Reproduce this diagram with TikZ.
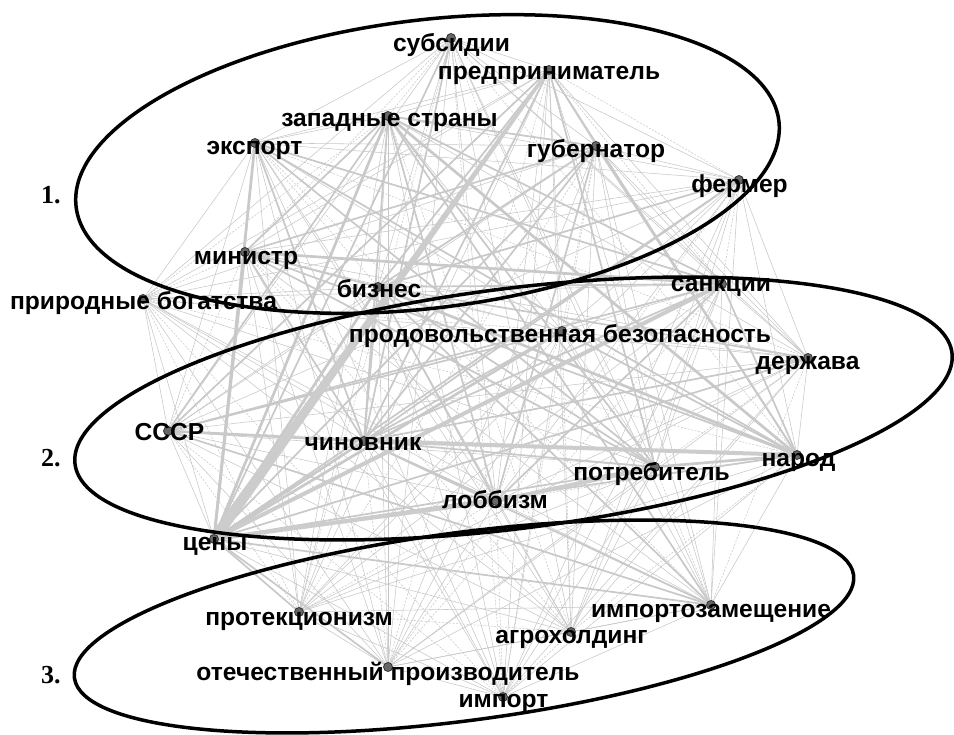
\documentclass[tikz,border=0pt]{standalone}
\usepackage{fontspec}
\setmainfont{Liberation Sans}
\newfontfamily\numfont{Liberation Serif}
\usetikzlibrary{calc}
\pgfdeclarelayer{bg}
\pgfsetlayers{bg,main}
\begin{document}
\begin{tikzpicture}[x=1pt,y=-1pt,
  dot/.style={circle, fill=black!60, draw=black!80, line width=0.8pt, inner sep=0pt, minimum size=9pt},
  lbl/.style={font=\fontsize{24.6}{27}\selectfont\bfseries, inner sep=0pt, anchor=base},
  num/.style={font=\numfont\bfseries\fontsize{26}{28}\selectfont, inner sep=0pt, anchor=base},
  e0/.style={draw=black!22, line width=0.55pt},
  e1/.style={draw=black!21, line width=1.7pt},
  e2/.style={draw=black!21, line width=2.7pt},
  e3/.style={draw=black!20, line width=4pt},
  ell/.style={draw=black, line width=3.5pt}]
\useasboundingbox (0,0) rectangle (954,735);
% dots
\node[dot] (sub) at (451,38) {};
\node[dot] (pred) at (549,70) {};
\node[dot] (zap) at (388,116) {};
\node[dot] (exp) at (255,143) {};
\node[dot] (gub) at (596,146) {};
\node[dot] (fer) at (739,180) {};
\node[dot] (min) at (245,252) {};
\node[dot] (biz) at (378,287) {};
\node[dot] (prir) at (143,299) {};
\node[dot] (sank) at (722,284) {};
\node[dot] (prod) at (562,331) {};
\node[dot] (derz) at (808,358) {};
\node[dot] (sssr) at (168,431) {};
\node[dot] (chin) at (364,441) {};
\node[dot] (narod) at (797,455) {};
\node[dot] (potr) at (655,467) {};
\node[dot] (lob) at (496,501) {};
\node[dot] (ceny) at (214,539) {};
\node[dot] (prot) at (299,612) {};
\node[dot] (impz) at (711,605) {};
\node[dot] (agro) at (571,632) {};
\node[dot] (otech) at (388,667) {};
\node[dot] (imp) at (503,697) {};
\begin{pgfonlayer}{bg}
\foreach \a [count=\i] in {sub,pred,zap,exp,gub,fer,min,biz,prir,sank,prod,derz,sssr,chin,narod,potr,lob,ceny,prot,impz,agro,otech,imp} {
  \foreach \b [count=\j] in {sub,pred,zap,exp,gub,fer,min,biz,prir,sank,prod,derz,sssr,chin,narod,potr,lob,ceny,prot,impz,agro,otech,imp} {
    \ifnum\j>\i
      \pgfmathtruncatemacro\m{mod(\i*7+\j*3,4)}
      \ifnum\m=0 \draw[e0,dash pattern=on 2pt off 1.5pt] (\a.center) -- (\b.center);
      \else \draw[e0] (\a.center) -- (\b.center); \fi
    \fi
  }
}
\foreach \a/\b in {exp/chin,exp/potr,exp/narod,exp/sank,zap/chin,zap/sssr,zap/gub,zap/potr,zap/sank,zap/min,zap/lob,
  pred/narod,pred/chin,pred/potr,pred/biz,pred/sssr,gub/ceny,gub/chin,gub/narod,gub/lob,gub/min,gub/biz,
  min/narod,min/potr,min/chin,min/biz,biz/sank,biz/potr,biz/chin,biz/lob,prod/sssr,prod/narod,prod/chin,
  sank/chin,sank/lob,sank/sssr,sank/narod,derz/chin,derz/ceny,derz/biz,chin/lob,chin/potr,potr/ceny,narod/ceny,
  ceny/prot,ceny/otech,impz/chin,impz/biz,impz/ceny,impz/zap,impz/sssr,fer/chin,fer/ceny,fer/biz,sub/chin,sub/ceny}
  \draw[e1] (\a.center) -- (\b.center);
\foreach \a/\b in {min/sank,sssr/chin,biz/narod,zap/narod,ceny/chin,ceny/biz,ceny/prod,ceny/exp,ceny/min,ceny/zap,potr/narod}
  \draw[e2] (\a.center) -- (\b.center);
\foreach \a/\b in {chin/narod,ceny/lob,ceny/sank,lob/potr}
  \draw[e3] (\a.center) -- (\b.center);
\fill[black!20] ($(pred.center)!1.5pt!90:(ceny.center)$) -- ($(pred.center)!1.5pt!-90:(ceny.center)$)
  -- ($(ceny.center)!5.5pt!90:(pred.center)$) -- ($(ceny.center)!5.5pt!-90:(pred.center)$) -- cycle;
\end{pgfonlayer}
% labels
\node[lbl] (sub-l) at (451.5,52) {субсидии};
\node[lbl] (pred-l) at (549,80) {предприниматель};
\node[lbl] (zap-l) at (389.5,127) {западные страны};
\node[lbl] (exp-l) at (254.5,155) {экспорт};
\node[lbl] (gub-l) at (596,158) {губернатор};
\node[lbl] (fer-l) at (739.5,193) {фермер};
\node[lbl] (min-l) at (246,265) {министр};
\node[lbl] (biz-l) at (379,298) {бизнес};
\node[lbl] (prir-l) at (143.5,310) {природные богатства};
\node[lbl] (sank-l) at (721,292) {санкции};
\node[lbl] (prod-l) at (560,343) {продовольственная безопасность};
\node[lbl] (derz-l) at (807.5,370) {держава};
\node[lbl] (sssr-l) at (169.5,441) {СССР};
\node[lbl] (chin-l) at (363,450) {чиновник};
\node[lbl] (narod-l) at (798.5,467) {народ};
\node[lbl] (potr-l) at (651.5,480) {потребитель};
\node[lbl] (lob-l) at (495,508) {лоббизм};
\node[lbl] (ceny-l) at (215,550) {цены};
\node[lbl] (prot-l) at (299,625) {протекционизм};
\node[lbl] (impz-l) at (711,617) {импортозамещение};
\node[lbl] (agro-l) at (571.5,643) {агрохолдинг};
\node[lbl] (otech-l) at (388,680) {отечественный производитель};
\node[lbl] (imp-l) at (503.5,707) {импорт};
% ellipses
\draw[ell, rotate around={7:(427.5,164)}] (427.5,164) ellipse [x radius=354, y radius=144];
\draw[ell, rotate around={7.24:(513.5,408.5)}] (513.5,408.5) ellipse [x radius=442, y radius=120];
\draw[ell, rotate around={7.52:(464,626.5)}] (464,626.5) ellipse [x radius=393, y radius=94];
\node[num] (n1) at (51,204) {1.};
\node[num] (n2) at (51,467) {2.};
\node[num] (n3) at (51,683) {3.};
\end{tikzpicture}
\end{document}
